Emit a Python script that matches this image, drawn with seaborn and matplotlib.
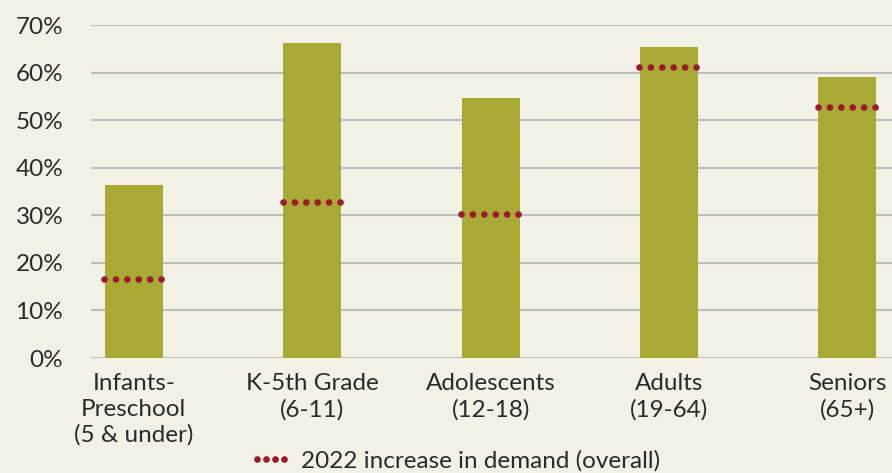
import numpy as np
import pandas as pd
import matplotlib
matplotlib.use("Agg")
import matplotlib.pyplot as plt
import seaborn as sns
from matplotlib.lines import Line2D

# values (percent)
groups = ["Infants-\nPreschool\n(5 & under)", "K-5th Grade\n(6-11)", "Adolescents\n(12-18)",
          "Adults\n(19-64)", "Seniors\n(65+)"]
share = [36.4, 66.2, 54.7, 65.4, 59.1]
overall_increase = [16.6, 32.8, 30.3, 61.2, 52.8]
y_ticks = [0, 10, 20, 30, 40, 50, 60, 70]

BG = "#f2f1e6"
BAR = "#a9aa35"
DOT = "#9b1a2b"
GRID = "#bdbdbd"
TEXT = "#2b2b2b"
DOTS = (0, (0.01, 1.7))

sns.set_theme(style="white")
plt.rcParams["font.family"] = ["Lato", "DejaVu Sans"]

df = pd.DataFrame({"group": groups, "share": share})

fig = plt.figure(figsize=(8.92, 4.73), dpi=100, facecolor=BG)
ax = fig.add_axes([0.102, 0.243, 0.898, 0.704])
ax.set_facecolor(BG)

sns.barplot(data=df, x="group", y="share", color=BAR, width=0.325,
            saturation=1, edgecolor="none", linewidth=0, ax=ax, zorder=2)

# dotted markers for overall increase, one short line per bar
half = 0.166
for i, v in enumerate(overall_increase):
    ax.plot([i - half, i + half], [v, v], color=DOT, lw=4.8,
            linestyle=DOTS, dash_capstyle="round", zorder=3)

ax.set_ylim(0, 70)
ax.set_xlim(-0.24, 4.25)
ax.set_yticks(y_ticks)
ax.set_yticklabels([f"{t}%" for t in y_ticks])
ax.yaxis.grid(True, color=GRID, lw=1.5, zorder=0)
ax.set_axisbelow(True)
for s in ax.spines.values():
    s.set_visible(False)
ax.tick_params(axis="both", length=0, labelsize=17.5, colors=TEXT)
ax.tick_params(axis="y", pad=20)
ax.tick_params(axis="x", pad=11)
for lab in ax.get_xticklabels():
    lab.set_linespacing(1.25)
ax.set_xlabel("")
ax.set_ylabel("")

# legend handle: four round dots
handle = Line2D([0], [0], color=DOT, linestyle="none", marker="o",
                markersize=4.8, markeredgewidth=0)
fig.legend([handle], ["2022 increase in demand (overall)"], loc="center",
           bbox_to_anchor=(0.51, 0.025), frameon=False, fontsize=17.5,
           numpoints=4, handlelength=1.75, handletextpad=0.4, labelcolor=TEXT)

fig.savefig("out.png", dpi=100, facecolor=BG)
